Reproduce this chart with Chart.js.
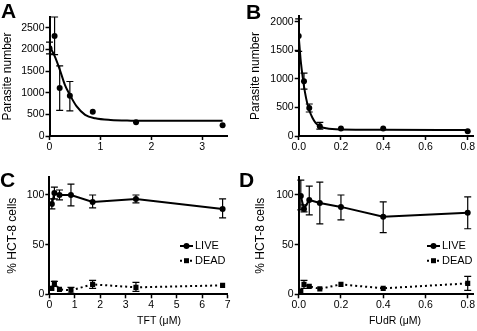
<!DOCTYPE html>
<html>
<head>
<meta charset="utf-8">
<script src="https://cdn.jsdelivr.net/npm/chart.js@4"></script>
<style>
  body { margin: 0; background: #fff; width: 477px; height: 331px; overflow: hidden; position: relative;
         font-family: "Liberation Sans", Arial, sans-serif; color: #000; }
  canvas { position: absolute; }
  .lbl { position: absolute; font-weight: bold; font-size: 21px; line-height: 21px; }
  .xt { position: absolute; font-size: 10.5px; line-height: 12px; transform: translateX(-50%); white-space: nowrap; }
</style>
</head>
<body>
<canvas id="cA" width="238" height="165" style="left:0;top:0"></canvas>
<canvas id="cB" width="239" height="165" style="left:238px;top:0"></canvas>
<canvas id="cC" width="238" height="166" style="left:0;top:165px"></canvas>
<canvas id="cD" width="239" height="166" style="left:238px;top:165px"></canvas>
<div class="lbl" style="left:1px;top:0">A</div>
<div class="lbl" style="left:246px;top:1px">B</div>
<div class="lbl" style="left:0;top:169px">C</div>
<div class="lbl" style="left:239px;top:169px">D</div>
<div class="xt" style="left:159px;top:314px">TFT (μM)</div>
<div class="xt" style="left:395px;top:314px">FUdR (μM)</div>
<script>
// A: TFT, parasite number
const aX = [0, 0.1, 0.2, 0.4, 0.85, 1.7, 3.4];
const aY = [2030, 2310, 1110, 930, 560, 320, 250];
const aHi = [2170, 2750, 1620, 1260, null, null, null];
const aLo = [1900, 1880, 590, 580, null, null, null];
const aFitX = [0, 0.1, 0.2, 0.3, 0.4, 0.53, 0.7, 0.9, 1.2, 1.6, 2.2, 3.4];
const aFitY = [2080, 1850, 1540, 1190, 950, 690, 490, 410, 370, 355, 350, 350];

// B: FUdR, parasite number
const bX = [0, 0.025, 0.05, 0.1, 0.2, 0.4, 0.8];
const bY = [1750, 960, 490, 170, 130, 130, 85];
const bHi = [2050, 1100, 560, 240, null, null, null];
const bLo = [1480, 820, 420, 120, null, null, null];
const bFitX = [0, 0.01, 0.02, 0.03, 0.04, 0.05, 0.065, 0.08, 0.1, 0.13, 0.2, 0.4, 0.81];
const bFitY = [1750, 1300, 1000, 760, 580, 450, 320, 230, 170, 135, 115, 110, 105];

// C: TFT, % HCT-8 cells
const cX = [0.1, 0.2, 0.4, 0.85, 1.7, 3.4, 6.8];
const cLive = [91, 102, 100, 100, 93, 96, 86];
const cLiveHi = [96, 108, 105, 111, 100, 100, 96];
const cLiveLo = [86, 96, 95, 89, 87, 92, 77];
const cDead = [6, 11, 5, 4, 10, 7, 9];
const cDeadHi = [null, 13, null, 7, 14, 12, null];
const cDeadLo = [null, 8, null, 1, 6, 3, null];

// D: FUdR, % HCT-8 cells
const dX = [0.01, 0.025, 0.05, 0.1, 0.2, 0.4, 0.8];
const dLive = [99, 86, 95, 92, 88, 78, 82];
const dLiveHi = [115, 90, 109, 113, 100, 93, 98];
const dLiveLo = [85, 83, 80, 71, 75, 62, 66];
const dDead = [3, 10, 8, 5.5, 10, 6, 11];
const dDeadHi = [null, 14, null, null, null, null, 18];
const dDeadLo = [null, 6, null, null, null, null, 4];

const aXTicks = [0, 1, 2, 3];
const aYTicks = [0, 500, 1000, 1500, 2000, 2500];
const bXTicks = [0, 0.2, 0.4, 0.6, 0.8];
const bYTicks = [0, 500, 1000, 1500, 2000];
const cXTicks = [0, 1, 2, 3, 4, 5, 6, 7];
const pctTicks = [0, 50, 100];

Chart.defaults.font.family = '"Liberation Sans", Arial, sans-serif';
Chart.defaults.color = '#000';

const pts = (xs, ys) => xs.map((x, i) => ({ x, y: ys[i] }));

const errorBars = {
  id: 'errorBars',
  afterDatasetsDraw(chart) {
    const { ctx, scales: { x, y } } = chart;
    ctx.save();
    ctx.strokeStyle = '#000';
    ctx.lineWidth = 1.2;
    chart.data.datasets.forEach((ds) => {
      if (!ds.errHi) return;
      ds.data.forEach((p, i) => {
        if (ds.errHi[i] == null) return;
        const px = x.getPixelForValue(p.x);
        const t = y.getPixelForValue(ds.errHi[i]);
        const b = y.getPixelForValue(ds.errLo[i]);
        ctx.beginPath();
        ctx.moveTo(px, t); ctx.lineTo(px, b);
        ctx.moveTo(px - 3.5, t); ctx.lineTo(px + 3.5, t);
        ctx.moveTo(px - 3.5, b); ctx.lineTo(px + 3.5, b);
        ctx.stroke();
      });
    });
    ctx.restore();
  },
};

const miniLegend = {
  id: 'miniLegend',
  afterDraw(chart, args, opts) {
    if (opts.x == null) return;
    const ctx = chart.ctx;
    chart.data.datasets.forEach((ds, i) => {
      const y = opts.y + i * opts.gap;
      const mx = opts.x + 6.5;
      ctx.save();
      ctx.strokeStyle = '#000';
      ctx.fillStyle = '#000';
      ctx.lineWidth = 2;
      ctx.setLineDash(ds.borderDash || []);
      ctx.beginPath(); ctx.moveTo(opts.x, y); ctx.lineTo(opts.x + 13, y); ctx.stroke();
      ctx.setLineDash([]);
      if (ds.pointStyle === 'rect') ctx.fillRect(mx - 2.5, y - 2.5, 5, 5);
      else { ctx.beginPath(); ctx.arc(mx, y, 3, 0, Math.PI * 2); ctx.fill(); }
      ctx.font = '11px "Liberation Sans", Arial, sans-serif';
      ctx.textBaseline = 'middle';
      ctx.fillText(ds.label, opts.x + 15, y);
      ctx.restore();
    });
  },
};

function axis(ticks, min, max, fmt, extra) {
  return Object.assign({
    type: 'linear', min, max,
    afterBuildTicks: (s) => { s.ticks = ticks.map((v) => ({ value: v })); },
    border: { color: '#000', width: 2 },
    grid: { drawOnChartArea: false, drawTicks: true, tickLength: 4, tickColor: '#000', tickWidth: 1.5 },
    ticks: { font: { size: 10.5 }, padding: 1, maxRotation: 0, autoSkip: false, callback: fmt },
  }, extra);
}

function panel(id, datasets, sc, pad, legend) {
  new Chart(document.getElementById(id), {
    type: 'scatter',
    data: { datasets },
    options: {
      responsive: false, animation: false, devicePixelRatio: 1,
      layout: { padding: pad },
      plugins: { legend: { display: false }, tooltip: { enabled: false }, miniLegend: legend || {} },
      scales: {
        x: axis(sc.xt, 0, sc.xmax, sc.xfmt, {
          afterFit: (s) => { s.height = sc.xh; },
        }),
        y: axis(sc.yt, 0, sc.ymax, intFmt, {
          afterFit: (s) => { s.width = sc.yw; },
          title: { display: true, text: sc.title, font: { size: 12 }, padding: { top: sc.tpad, bottom: 0 } },
        }),
      },
    },
    plugins: [errorBars, miniLegend],
  });
}

const dotSet = (xs, ys, hi, lo) => ({
  data: pts(xs, ys), errHi: hi, errLo: lo, showLine: false,
  pointRadius: 3, pointBackgroundColor: '#000', pointBorderColor: '#000', pointBorderWidth: 0,
});
const fitSet = (xs, ys) => ({
  data: pts(xs, ys), showLine: true, pointRadius: 0, borderColor: '#000', borderWidth: 2,
  cubicInterpolationMode: 'monotone',
});
const liveSet = (xs, ys, hi, lo) => ({
  label: 'LIVE', data: pts(xs, ys), errHi: hi, errLo: lo, showLine: true,
  borderColor: '#000', borderWidth: 2, pointRadius: 3, pointStyle: 'circle',
  pointBackgroundColor: '#000', pointBorderColor: '#000', pointBorderWidth: 0,
});
const deadSet = (xs, ys, hi, lo) => ({
  label: 'DEAD', data: pts(xs, ys), errHi: hi, errLo: lo, showLine: true,
  borderColor: '#000', borderWidth: 2, borderDash: [2, 3], pointRadius: 3.6, pointStyle: 'rect',
  pointBackgroundColor: '#000', pointBorderColor: '#000', pointBorderWidth: 0,
});

function intFmt(v) { return String(v); }
function decFmt(v) { return v.toFixed(1); }

panel('cA', [fitSet(aFitX, aFitY), dotSet(aX, aY, aHi, aLo)],
  { xt: aXTicks, yt: aYTicks, xmax: 3.5, ymax: 2750, xh: 29, yw: 49.5, title: 'Parasite number', tpad: 0, xfmt: intFmt },
  { top: 17, right: 10.3, left: 0, bottom: 0 });

panel('cB', [fitSet(bFitX, bFitY), dotSet(bX, bY, bHi, bLo)],
  { xt: bXTicks, yt: bYTicks, xmax: 0.825, ymax: 2100, xh: 29, yw: 60.7, title: 'Parasite number', tpad: 10, xfmt: decFmt },
  { top: 16, right: 3, left: 0, bottom: 0 });

panel('cC', [liveSet(cX, cLive, cLiveHi, cLiveLo), deadSet(cX, cDead, cDeadHi, cDeadLo)],
  { xt: cXTicks, yt: pctTicks, xmax: 7, ymax: 118, xh: 36.7, yw: 49.3, title: '% HCT-8 cells', tpad: 5, xfmt: intFmt },
  { top: 12.1, right: 10.3, left: 0, bottom: 0 },
  { x: 180, y: 81, gap: 14.7 });

panel('cD', [liveSet(dX, dLive, dLiveHi, dLiveLo), deadSet(dX, dDead, dDeadHi, dDeadLo)],
  { xt: bXTicks, yt: pctTicks, xmax: 0.825, ymax: 118, xh: 36.7, yw: 60.7, title: '% HCT-8 cells', tpad: 15, xfmt: decFmt },
  { top: 12.1, right: 3, left: 0, bottom: 0 },
  { x: 189, y: 81, gap: 14.7 });
</script>
</body>
</html>
